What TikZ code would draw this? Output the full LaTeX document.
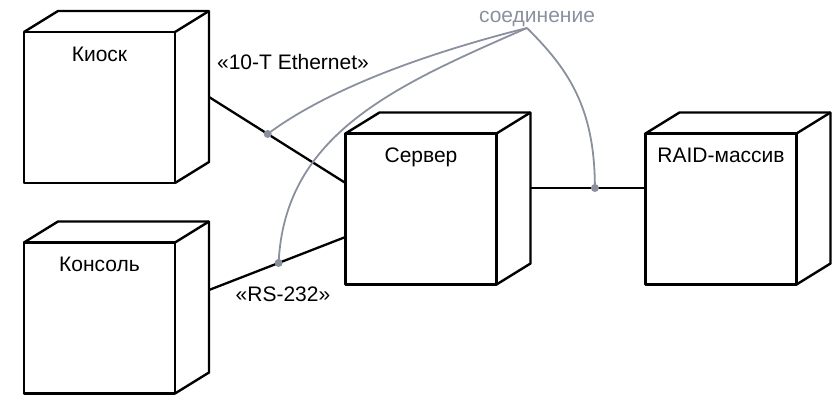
\documentclass[tikz,border=0pt]{standalone}
\usepackage{fontspec}
\setmainfont{Liberation Sans}
\usetikzlibrary{calc}
\definecolor{conn}{HTML}{8A909E}
\tikzset{
  nodebox/.style={draw, line width=2.4pt, line join=round, minimum width=151pt, minimum height=151pt, inner sep=0pt, outer sep=0pt},
  boxedge/.style={line width=2.4pt, line join=round},
  link/.style={line width=2.3pt},
  note/.style={draw=conn, line width=1.8pt},
  dot/.style={circle, fill=conn, inner sep=0pt, minimum size=8pt},
  txt/.style={anchor=base, font=\fontsize{21}{25}\selectfont, inner sep=0pt},
  boxlabel/.style={txt, yshift=-29.5pt},
}
\newcommand{\boxdepth}[1]{%
  \draw[boxedge] (#1.north west) -- ++(34,21) -- ($(#1.north east)+(34,21)$) -- ($(#1.south east)+(34,21)$) -- (#1.south east);
  \draw[boxedge] (#1.north east) -- ++(34,21);
}
\begin{document}
\begin{tikzpicture}[x=1pt,y=1pt]
\useasboundingbox (0,0) rectangle (836,395);
% nodes
\node[nodebox, label={[boxlabel]north:Киоск}] (k) at (99.5,287.5) {};
\node[nodebox, label={[boxlabel]north:Консоль}] (c) at (99.5,77) {};
\node[nodebox, label={[boxlabel]north:Сервер}] (s) at (421,186) {};
\node[nodebox, label={[boxlabel]north:RAID-массив}] (r) at (721,186) {};
\boxdepth{k}
\boxdepth{c}
\boxdepth{s}
\boxdepth{r}
% connector end points
\coordinate (kR) at ($(k.east)+(34,10.5)$);
\coordinate (cR) at ($(c.east)+(34,28)$);
\coordinate (sL1) at ($(s.west)+(0,26)$);
\coordinate (sL2) at ($(s.west)+(0,-28)$);
\coordinate (sR) at ($(s.east)+(34,21)$);
\coordinate (rL) at ($(r.west)+(0,21)$);
% connectors
\draw[link] (kR) -- coordinate[pos=0.43] (p1) (sL1);
\draw[link] (cR) -- coordinate[pos=0.51] (p2) (sL2);
\draw[link] (sR) -- coordinate[pos=0.56] (p3) (rL);
% labels
\node[txt] (eth) at (293,325) {«10-T Ethernet»};
\node[txt] (rs) at (283,93) {«RS-232»};
\node[txt, text=conn] (lbl) at (537,372) {соединение};
\coordinate (o) at (527,367);
% note curves
\draw[note] (o) .. controls +(-100,-25) and +(60,45) .. (p1);
\draw[note] (o) .. controls +(-130,-57) and +(6,130) .. (p2);
\draw[note] (o) .. controls +(40,-40) and +(0,82) .. (p3);
\node[dot] (d1) at (p1) {};
\node[dot] (d2) at (p2) {};
\node[dot] (d3) at (p3) {};
\end{tikzpicture}
\end{document}
